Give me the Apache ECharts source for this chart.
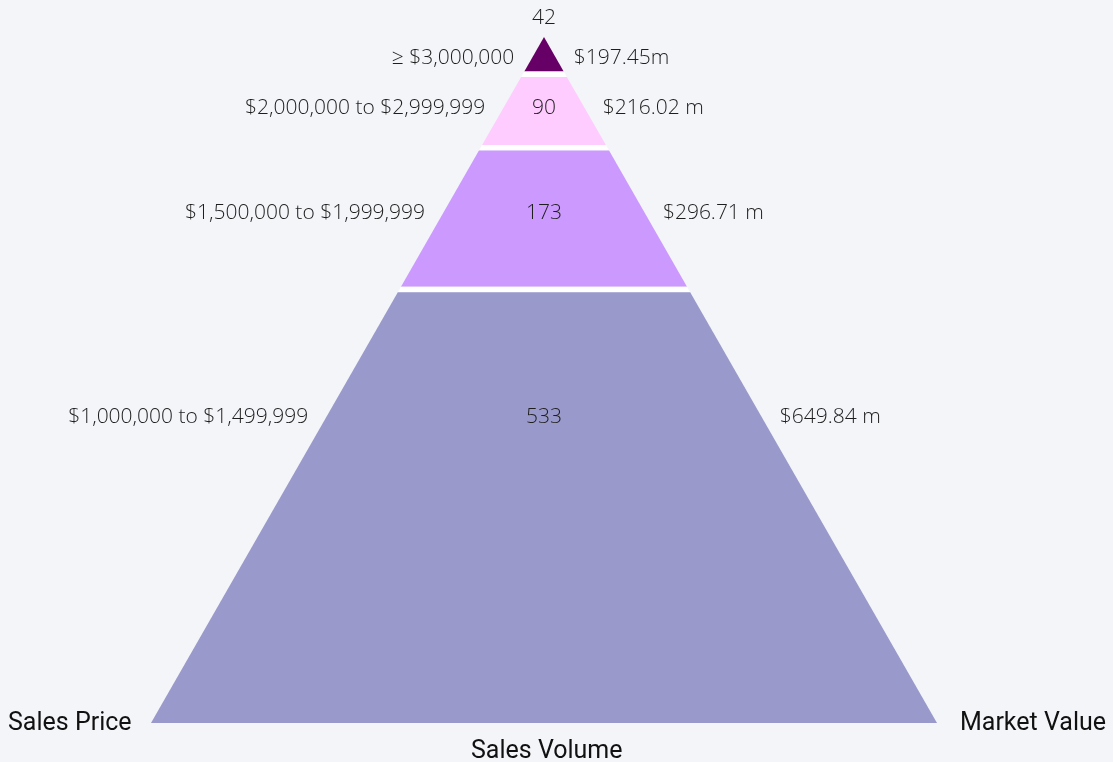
<!DOCTYPE html>
<html>
<head>
<meta charset="utf-8">
<script src="https://cdn.jsdelivr.net/npm/echarts@6/dist/echarts.min.js"></script>
<style>
  html, body { margin: 0; padding: 0; background: #f4f5f9; }
  #main { width: 1113px; height: 762px; }
</style>
</head>
<body>
<div id="main"></div>
<script>
// price bands, top of the pyramid first
const priceBands = ['≥ $3,000,000', '$2,000,000 to $2,999,999', '$1,500,000 to $1,999,999', '$1,000,000 to $1,499,999'];
const salesVolume = [42, 90, 173, 533];
const marketValue = ['$197.45m', '$216.02 m', '$296.71 m', '$649.84 m'];
const bandColors = ['#660066', '#ffccff', '#cc99ff', '#9999cc'];

// where the text sits inside each band (fraction of band height)
const labelRatio = [0.6, 0.46, 0.46, 0.29];

const total = salesVolume.reduce((a, b) => a + b, 0);
let acc = 0;
const segs = salesVolume.map((v, i) => {
    const s = acc;
    acc += v;
    return [i, s, acc, v];
});

const textFont = '"Segoe UI Light", "Open Sans", sans-serif';
const txtColor = '#1e1e1e';

function renderItem(params, api) {
    const i = api.value(0);
    const apex = api.coord([0, 0]);
    const base = api.coord([1, total]);
    const cx = apex[0];
    const hw = y => (y - apex[1]) / (base[1] - apex[1]) * (base[0] - cx);
    const gap = 5.5;
    const y0 = api.coord([0, api.value(1)])[1];
    const yb = api.coord([0, api.value(2)])[1];
    const yt = i > 0 ? y0 + gap : y0;

    const trap = (a, b) => [[cx - hw(a), a], [cx + hw(a), a], [cx + hw(b), b], [cx - hw(b), b]];
    const ly = yt + (yb - yt) * labelRatio[i];
    const pad = 18;
    const st = { font: '300 21px ' + textFont, fill: txtColor, verticalAlign: 'middle' };

    const children = [
        { type: 'polygon', shape: { points: trap(yt, yb) }, style: { fill: bandColors[i] } },
        {
            type: 'text',
            style: Object.assign({ text: priceBands[i], x: cx - hw(ly) - pad, y: ly, align: 'right' }, st)
        },
        {
            type: 'text',
            style: Object.assign({ text: marketValue[i], x: cx + hw(ly) + pad, y: ly, align: 'left' }, st)
        },
        {
            type: 'text',
            style: Object.assign({
                text: String(api.value(3)),
                x: cx,
                y: i === 0 ? apex[1] - 19 : ly,
                align: 'center'
            }, st)
        }
    ];
    if (i > 0) {
        children.unshift({ type: 'polygon', shape: { points: trap(y0, yt) }, style: { fill: '#ffffff' } });
    }
    return { type: 'group', children: children };
}

const chart = echarts.init(document.getElementById('main'));
chart.setOption({
    backgroundColor: '#f4f5f9',
    animation: false,
    grid: { left: 151, right: 176, top: 37, bottom: 39 },
    xAxis: { type: 'value', min: -1, max: 1, show: false },
    yAxis: { type: 'value', min: 0, max: total, inverse: true, show: false },
    graphic: [
        {
            type: 'text', left: 8, top: 711,
            style: { text: 'Sales Price', font: '25px Roboto, sans-serif', fill: '#111' }
        },
        {
            type: 'text', right: 7, top: 711,
            style: { text: 'Market Value', font: '25px Roboto, sans-serif', fill: '#111' }
        },
        {
            type: 'text', left: 471, top: 739,
            style: { text: 'Sales Volume', font: '25px Roboto, sans-serif', fill: '#111' }
        }
    ],
    series: [{
        type: 'custom',
        renderItem: renderItem,
        encode: { x: 0, y: [1, 2] },
        data: segs
    }]
});
</script>
</body>
</html>
